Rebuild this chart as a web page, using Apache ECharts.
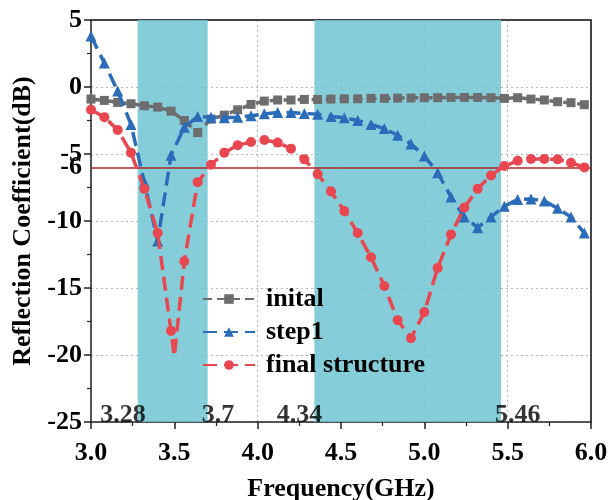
<!DOCTYPE html>
<html>
<head>
<meta charset="utf-8">
<script src="https://cdn.jsdelivr.net/npm/echarts@6/dist/echarts.min.js"></script>
<style>
  html, body { margin: 0; padding: 0; background: #fff; }
  #chart { width: 609px; height: 500px; }
</style>
</head>
<body>
<div id="chart"></div>
<script>
// Frequency points (GHz) where the simulated curves carry markers
const freq = [3.00, 3.08, 3.16, 3.24, 3.32, 3.40, 3.48, 3.56, 3.64, 3.72,
              3.80, 3.88, 3.96, 4.04, 4.12, 4.20, 4.28, 4.36, 4.44, 4.52,
              4.60, 4.68, 4.76, 4.84, 4.92, 5.00, 5.08, 5.16, 5.24, 5.32,
              5.40, 5.48, 5.56, 5.64, 5.72, 5.80, 5.88, 5.96];

// Reflection coefficient (dB) of each design stage
const initial = [-0.9, -1.0, -1.15, -1.25, -1.4, -1.5, -1.8, -2.5, -3.4, -2.4,
                 -2.1, -1.7, -1.3, -1.05, -0.97, -0.97, -0.93, -0.93, -0.9, -0.88,
                 -0.88, -0.85, -0.85, -0.83, -0.82, -0.8, -0.8, -0.78, -0.78, -0.78,
                 -0.8, -0.85, -0.8, -0.9, -0.97, -1.1, -1.17, -1.32];
const step1 = [3.8, 1.8, -0.3, -2.8, -7.1, -11.5, -5.1, -3.0, -2.2, -2.25,
               -2.3, -2.25, -2.15, -2.0, -1.9, -1.9, -1.97, -2.04, -2.2, -2.3,
               -2.5, -2.8, -3.1, -3.6, -4.25, -5.15, -6.4, -8.2, -9.7, -10.5,
               -9.7, -8.9, -8.4, -8.35, -8.5, -9.05, -9.7, -10.9];
const finalStructure = [-1.7, -2.25, -3.2, -4.9, -7.6, -10.9, -18.2, -13.0, -7.1, -5.8,
                        -4.9, -4.35, -4.1, -3.95, -4.15, -4.6, -5.4, -6.5, -7.8, -9.25,
                        -10.9, -12.7, -14.85, -17.4, -18.75, -16.8, -13.5, -11.0, -9.0, -7.6,
                        -6.6, -5.9, -5.5, -5.37, -5.37, -5.4, -5.65, -6.0];

// Curve samples between markers (no marker drawn there)
const step1Extra = [[6.00, -11.5]];
const finalExtra = [[3.50, -20.1]];

// Operating bands (GHz) and the -6 dB reference level
const bands = [[3.28, 3.7], [4.34, 5.46]];
const threshold = -6;

const seriesNames = ['inital', 'step1', 'final structure'];
const xTicks = { min: 3.0, max: 6.0, step: 0.5 };
const yTicks = { min: -25, max: 5, step: 5 };

const FONT = 'Liberation Serif';
const FS = 26;
const TXT = '#000';

function buildPoints(xs, ys, extra) {
  const pts = xs.map((x, i) => ({ value: [x, ys[i]] }));
  extra.forEach(p => pts.push({ value: p, symbol: 'none' }));
  pts.sort((a, b) => a.value[0] - b.value[0]);
  return pts;
}

// Labels for the band edges: band starts sit left of the edge, band ends right of it
const edgeLabels = [];
bands.forEach(b => {
  edgeLabels.push({ value: [b[0], yTicks.min], label: { align: 'right', offset: [8, -7] }, text: String(b[0]) });
  edgeLabels.push({ value: [b[1], yTicks.min], label: { align: 'left', offset: [-6, -7] }, text: String(b[1]) });
});

const chart = echarts.init(document.getElementById('chart'), null, { renderer: 'canvas' });

const lineCommon = {
  type: 'line',
  animation: false,
  silent: true,
  connectNulls: true
};

const boldText = { fontFamily: FONT, fontWeight: 'bold', fontSize: FS, color: TXT };

chart.setOption({
  animation: false,
  grid: { left: 91, top: 20, right: 18, bottom: 78, show: false, containLabel: false, outerBoundsMode: 'none' },
  legend: {
    orient: 'vertical',
    left: 197,
    top: 281,
    itemWidth: 52,
    itemHeight: 12,
    itemGap: 7,
    data: seriesNames,
    textStyle: Object.assign({}, boldText, { padding: [0, 0, 0, 6] })
  },
  xAxis: [{
    type: 'value',
    min: xTicks.min, max: xTicks.max, interval: xTicks.step,
    name: 'Frequency(GHz)',
    nameLocation: 'middle',
    nameGap: 54,
    nameTextStyle: boldText,
    axisLine: { show: true, onZero: false, lineStyle: { color: '#222', width: 1.5 } },
    axisTick: { show: true, inside: false, length: 7, lineStyle: { color: '#222', width: 1.5 } },
    minorTick: { show: true, splitNumber: 2, length: 4, lineStyle: { color: '#222', width: 1.2 } },
    axisLabel: Object.assign({}, boldText, { margin: 18, formatter: v => v.toFixed(1) }),
    splitLine: { show: true, lineStyle: { color: '#b5b5b5', type: [2, 3], width: 1 } }
  }, {
    type: 'value', position: 'top',
    min: xTicks.min, max: xTicks.max,
    axisLine: { show: true, onZero: false, lineStyle: { color: '#444', width: 2 } },
    axisTick: { show: false }, axisLabel: { show: false }, splitLine: { show: false }
  }],
  yAxis: [{
    type: 'value',
    min: yTicks.min, max: yTicks.max, interval: yTicks.step,
    name: 'Reflection Coefficient(dB)',
    nameLocation: 'middle',
    nameGap: 53,
    nameTextStyle: boldText,
    axisLine: { show: true, onZero: false, lineStyle: { color: '#222', width: 1.5 } },
    axisTick: { show: true, inside: false, length: 7, lineStyle: { color: '#222', width: 1.5 } },
    minorTick: { show: true, splitNumber: 2, length: 4, lineStyle: { color: '#222', width: 1.2 } },
    axisLabel: Object.assign({}, boldText, { margin: 9 }),
    splitLine: { show: true, lineStyle: { color: '#b5b5b5', type: [2, 3], width: 1 } }
  }, {
    type: 'value', position: 'right',
    min: yTicks.min, max: yTicks.max,
    axisLine: { show: true, onZero: false, lineStyle: { color: '#444', width: 2 } },
    axisTick: { show: false }, axisLabel: { show: false }, splitLine: { show: false }
  }],
  series: [
    {
      // shaded operating bands, the -6 dB reference line and edge labels
      type: 'scatter',
      name: 'bands',
      silent: true,
      z: 1,
      symbolSize: 0,
      data: edgeLabels.map(d => ({ value: d.value, label: d.label, text: d.text })),
      label: Object.assign({}, boldText, {
        show: true,
        position: 'inside',
        verticalAlign: 'middle',
        formatter: p => p.data.text
      }),
      markArea: {
        silent: true,
        itemStyle: { color: 'rgba(112,198,210,0.85)' },
        data: bands.map(b => [{ xAxis: b[0] }, { xAxis: b[1] }])
      },
      markLine: {
        silent: true,
        symbol: 'none',
        lineStyle: { color: '#b0262a', width: 1.5, type: 'solid' },
        label: Object.assign({}, boldText, {
          show: true, position: 'start', distance: 9,
          formatter: String(threshold)
        }),
        data: [{ yAxis: threshold }]
      }
    },
    Object.assign({}, lineCommon, {
      name: seriesNames[0],
      z: 3,
      data: buildPoints(freq, initial, []),
      symbol: 'rect', symbolSize: 9,
      itemStyle: { color: '#6d6d70' },
      lineStyle: { color: '#6d6d70', width: 3.5, type: [9, 5] }
    }),
    Object.assign({}, lineCommon, {
      name: seriesNames[1],
      z: 4,
      data: buildPoints(freq, step1, step1Extra),
      symbol: 'triangle', symbolSize: 11,
      itemStyle: { color: '#2a6cba' },
      lineStyle: { color: '#2a6cba', width: 3.5, type: [14, 7] }
    }),
    Object.assign({}, lineCommon, {
      name: seriesNames[2],
      z: 5,
      data: buildPoints(freq, finalStructure, finalExtra),
      symbol: 'circle', symbolSize: 10,
      itemStyle: { color: '#e8474f' },
      lineStyle: { color: '#e8474f', width: 3.5, type: [14, 7] }
    })
  ]
});
</script>
</body>
</html>
